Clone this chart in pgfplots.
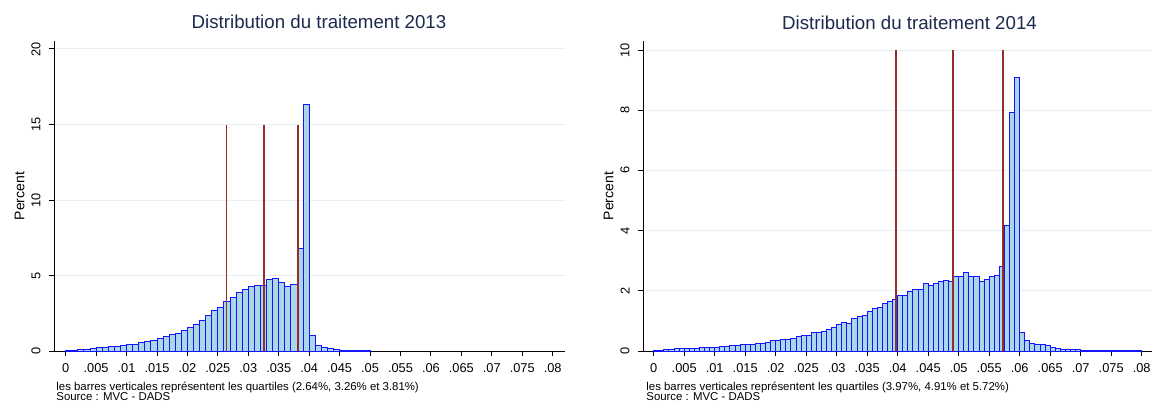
\documentclass[border=0pt]{standalone}
\usepackage{fontspec}
\setmainfont{Liberation Sans}
\usepackage{pgfplots}
\pgfplotsset{compat=1.18}
\usepackage{pgfplotstable}

\definecolor{barfill}{RGB}{170,215,232}
\definecolor{barline}{RGB}{20,20,255}
\definecolor{quart}{RGB}{150,45,45}
\definecolor{gridc}{RGB}{232,240,242}
\definecolor{titlec}{RGB}{28,42,78}

% 2013: bins of width 0.001 (bin = left edge / 0.001), last row closes the interval
\pgfplotstableread{
bin pct
0 0.02
1 0.05
2 0.11
3 0.11
4 0.18
5 0.22
6 0.24
7 0.29
8 0.33
9 0.38
10 0.42
11 0.46
12 0.53
13 0.60
14 0.71
15 0.84
16 0.95
17 1.06
18 1.19
19 1.37
20 1.55
21 1.77
22 2.03
23 2.34
24 2.69
25 2.89
26 3.31
27 3.55
28 3.86
29 4.06
30 4.26
31 4.37
32 4.37
33 4.75
34 4.77
35 4.53
36 4.30
37 4.39
38 6.80
39 16.30
40 1.02
41 0.36
42 0.24
43 0.18
44 0.10
45 0.04
46 0.03
47 0.02
48 0.02
49 0.01
50 0.01
}\histA

% 2014: bins of width 1/1200
\pgfplotstableread{
bin pct
0 0.02
1 0.03
2 0.04
3 0.06
4 0.07
5 0.07
6 0.08
7 0.09
8 0.09
9 0.10
10 0.11
11 0.12
12 0.13
13 0.14
14 0.15
15 0.17
16 0.17
17 0.21
18 0.21
19 0.23
20 0.25
21 0.25
22 0.27
23 0.34
24 0.36
25 0.37
26 0.38
27 0.43
28 0.48
29 0.50
30 0.51
31 0.60
32 0.62
33 0.66
34 0.72
35 0.77
36 0.88
37 0.95
38 0.93
39 1.07
40 1.13
41 1.17
42 1.30
43 1.40
44 1.45
45 1.57
46 1.63
47 1.72
48 1.83
49 1.85
50 1.99
51 2.06
52 2.06
53 2.23
54 2.18
55 2.25
56 2.32
57 2.34
58 2.32
59 2.47
60 2.49
61 2.60
62 2.49
63 2.48
64 2.32
65 2.38
66 2.46
67 2.50
68 2.82
69 4.17
70 7.94
71 9.10
72 0.60
73 0.34
74 0.25
75 0.20
76 0.20
77 0.17
78 0.13
79 0.07
80 0.05
81 0.05
82 0.04
83 0.04
84 0.03
85 0.03
86 0.03
87 0.03
88 0.02
89 0.03
90 0.03
91 0.02
92 0.02
93 0.02
94 0.02
95 0.02
96 0.02
}\histB

\pgfplotsset{
  stata/.style={
    scale only axis, height=155pt,
    axis lines*=left,
    axis line style={black, line width=0.5pt},
    tick align=outside, major tick length=2.5pt,
    tick style={black, line width=0.5pt},
    ymin=0,
    ymajorgrids, grid style={gridc, line width=0.5pt},
    scaled x ticks=false, scaled y ticks=false,
    xtick={0,0.005,0.01,0.015,0.02,0.025,0.03,0.035,0.04,0.045,0.05,0.055,0.06,0.065,0.07,0.075,0.08},
    xticklabels={0,.005,.01,.015,.02,.025,.03,.035,.04,.045,.05,.055,.06,.065,.07,.075,.08},
    ticklabel style={font=\fontsize{6.4}{7}\selectfont},
    xticklabel style={inner sep=0pt, anchor=north}, xticklabel shift=3.5pt,
    yticklabel style={rotate=90, anchor=south, inner sep=0pt}, yticklabel shift=4pt,
    ylabel=Percent,
    ylabel style={font=\fontsize{7}{8}\selectfont, anchor=south, inner sep=0pt},
    title style={font=\fontsize{9.35}{11}\selectfont, color=titlec, anchor=base, inner sep=0pt},
  },
  hbar/.style={ybar interval, fill=barfill, draw=barline, line width=0.5pt},
  qline/.style={quart, line width=0.9pt},
}

\begin{document}
\begin{tikzpicture}
\useasboundingbox (0,0) rectangle (576.5pt,201.5pt);

\begin{axis}[stata, at={(27pt,26pt)}, anchor=south west, width=255.5pt,
  xmin=-0.00192, xmax=0.08202, ymax=20.53,
  ytick={0,5,10,15,20}, yticklabels={0,5,10,15,20},
  ylabel style={at={(axis description cs:-0.0568,0.5)}},
  title={Distribution du traitement 2013},
  title style={at={(axis description cs:0.5186,1.0)}}]
\addplot[hbar] table[x expr=\thisrow{bin}*0.001, y=pct] {\histA};
\addplot[qline] coordinates {(0.0264,0) (0.0264,15)};
\addplot[qline] coordinates {(0.0326,0) (0.0326,15)};
\addplot[qline] coordinates {(0.0381,0) (0.0381,15)};
\end{axis}

\begin{axis}[stata, at={(321.5pt,26pt)}, anchor=south west, width=254.5pt,
  xmin=-0.00175, xmax=0.08169, ymax=10.3,
  ytick={0,2,4,6,8,10}, yticklabels={0,2,4,6,8,10},
  ylabel style={at={(axis description cs:-0.057,0.5)}},
  title={Distribution du traitement 2014},
  title style={at={(axis description cs:0.5236,1.0)}}]
\addplot[hbar] table[x expr=\thisrow{bin}/1200, y=pct] {\histB};
\addplot[qline] coordinates {(0.0397,0) (0.0397,10)};
\addplot[qline] coordinates {(0.0491,0) (0.0491,10)};
\addplot[qline] coordinates {(0.0572,0) (0.0572,10)};
\end{axis}

\begin{scope}[every node/.style={anchor=base west, inner sep=0pt, font=\fontsize{5.7}{6}\selectfont}]
\node at (28pt,6.2pt) {les barres verticales représentent les quartiles (2.64\%, 3.26\% et 3.81\%)};
\node at (28pt,1.2pt) {Source : MVC - DADS};
\node at (323pt,6.2pt) {les barres verticales représentent les quartiles (3.97\%, 4.91\% et 5.72\%)};
\node at (323pt,1.2pt) {Source : MVC - DADS};
\end{scope}
\end{tikzpicture}
\end{document}
